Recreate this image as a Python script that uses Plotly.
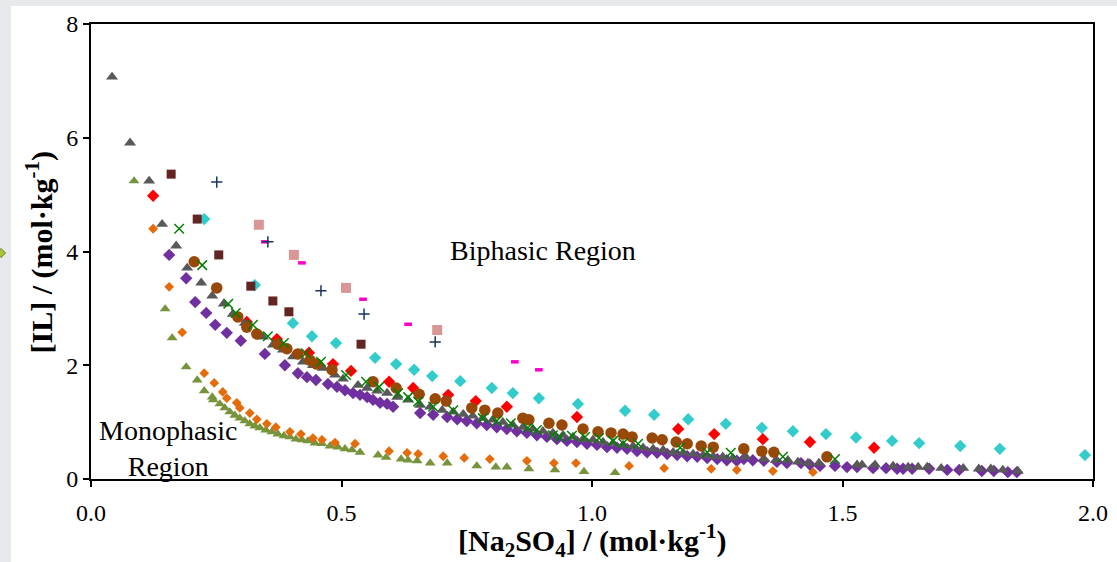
import plotly.graph_objects as go

# ---- Phase diagram data: [IL] vs [Na2SO4] (mol/kg) for each ionic liquid system ----
gray_tri_x = [0.042, 0.078, 0.116, 0.142, 0.170, 0.192, 0.220, 0.242, 0.265, 0.283, 0.307, 0.343, 0.363,
              0.383, 0.403, 0.423, 0.443, 0.463, 0.487, 0.503, 0.533, 0.551, 0.571, 0.591, 0.611, 0.633,
              0.657, 0.677, 0.701, 0.723, 0.743, 0.762, 0.782, 0.802, 0.822, 0.842, 0.862, 0.882, 0.902,
              0.922, 0.942, 0.962, 0.982, 1.002, 1.022, 1.042, 1.062, 1.082, 1.102, 1.122, 1.142, 1.162,
              1.182, 1.202, 1.222, 1.242, 1.261, 1.281, 1.307, 1.343, 1.367, 1.391, 1.411, 1.431, 1.453,
              1.529, 1.539, 1.565, 1.601, 1.631, 1.651, 1.669, 1.697, 1.741, 1.772, 1.796, 1.820, 1.850]
gray_tri_y = [7.07, 5.91, 5.24, 4.48, 4.10, 3.71, 3.45, 3.22, 3.08, 2.90, 2.74, 2.50, 2.36,
              2.27, 2.15, 2.06, 2.00, 1.95, 1.83, 1.76, 1.65, 1.60, 1.55, 1.51, 1.44, 1.39,
              1.30, 1.27, 1.21, 1.18, 1.14, 1.11, 1.07, 1.04, 1.00, 0.95, 0.91, 0.88, 0.84,
              0.81, 0.77, 0.74, 0.70, 0.69, 0.65, 0.63, 0.60, 0.58, 0.55, 0.53, 0.51, 0.47,
              0.46, 0.44, 0.42, 0.40, 0.39, 0.37, 0.39, 0.35, 0.33, 0.33, 0.30, 0.28, 0.28,
              0.25, 0.25, 0.25, 0.23, 0.21, 0.21, 0.21, 0.19, 0.19, 0.18, 0.18, 0.16, 0.14]

olive_tri_x = [0.086, 0.148, 0.162, 0.190, 0.212, 0.226, 0.242, 0.244, 0.257, 0.267, 0.277, 0.287, 0.297,
               0.307, 0.317, 0.327, 0.337, 0.349, 0.361, 0.373, 0.385, 0.397, 0.409, 0.421, 0.433, 0.447,
               0.461, 0.477, 0.493, 0.507, 0.521, 0.537, 0.573, 0.589, 0.619, 0.633, 0.651, 0.677, 0.711,
               0.770, 0.808, 0.830, 0.874, 0.926, 0.984, 1.046]
olive_tri_y = [5.24, 2.99, 2.48, 1.97, 1.74, 1.55, 1.44, 1.39, 1.32, 1.25, 1.18, 1.12, 1.07,
               1.02, 0.97, 0.93, 0.90, 0.86, 0.83, 0.79, 0.76, 0.74, 0.70, 0.69, 0.67, 0.63,
               0.62, 0.58, 0.56, 0.53, 0.51, 0.47, 0.42, 0.38, 0.35, 0.33, 0.32, 0.28, 0.28,
               0.23, 0.21, 0.21, 0.18, 0.16, 0.13, 0.11]

orange_dia_x = [0.124, 0.156, 0.182, 0.226, 0.246, 0.263, 0.271, 0.291, 0.297, 0.317, 0.331, 0.351, 0.369,
                0.397, 0.419, 0.443, 0.461, 0.487, 0.527, 0.595, 0.631, 0.653, 0.703, 0.745, 0.796, 0.870,
                0.924, 0.968, 1.074, 1.144, 1.238, 1.289, 1.361, 1.441]
orange_dia_y = [4.40, 3.38, 2.58, 1.86, 1.69, 1.53, 1.42, 1.34, 1.25, 1.16, 1.05, 0.97, 0.91,
                0.83, 0.79, 0.72, 0.69, 0.64, 0.62, 0.49, 0.46, 0.44, 0.40, 0.37, 0.35, 0.32,
                0.28, 0.28, 0.23, 0.19, 0.18, 0.16, 0.14, 0.12]

purple_dia_x = [0.156, 0.190, 0.208, 0.230, 0.248, 0.271, 0.299, 0.347, 0.387, 0.413, 0.431, 0.449, 0.473,
                0.491, 0.507, 0.523, 0.537, 0.551, 0.563, 0.577, 0.591, 0.603, 0.657, 0.683, 0.711, 0.731,
                0.750, 0.770, 0.790, 0.810, 0.830, 0.850, 0.870, 0.890, 0.910, 0.930, 0.950, 0.970, 0.990,
                1.010, 1.030, 1.050, 1.070, 1.090, 1.110, 1.130, 1.150, 1.170, 1.190, 1.210, 1.230, 1.250,
                1.269, 1.289, 1.303, 1.321, 1.343, 1.369, 1.389, 1.417, 1.435, 1.455, 1.485, 1.509, 1.529,
                1.561, 1.587, 1.609, 1.621, 1.639, 1.673, 1.709, 1.733, 1.778, 1.802, 1.830, 1.848]
purple_dia_y = [3.94, 3.53, 3.11, 2.92, 2.71, 2.57, 2.43, 2.20, 2.00, 1.86, 1.79, 1.74, 1.67,
                1.62, 1.56, 1.51, 1.48, 1.44, 1.39, 1.34, 1.32, 1.27, 1.16, 1.13, 1.09, 1.05,
                1.02, 0.98, 0.95, 0.91, 0.88, 0.84, 0.81, 0.77, 0.74, 0.70, 0.67, 0.65, 0.62,
                0.60, 0.56, 0.55, 0.53, 0.49, 0.47, 0.46, 0.44, 0.42, 0.40, 0.39, 0.37, 0.35,
                0.33, 0.32, 0.35, 0.33, 0.32, 0.30, 0.28, 0.28, 0.25, 0.23, 0.23, 0.21, 0.21,
                0.19, 0.19, 0.18, 0.18, 0.18, 0.18, 0.16, 0.16, 0.14, 0.14, 0.12, 0.12]

red_dia_x = [0.124, 0.311, 0.371, 0.435, 0.483, 0.519, 0.595, 0.643, 0.713, 0.768, 0.830, 0.970, 1.172,
             1.244, 1.341, 1.435, 1.563]
red_dia_y = [4.98, 2.76, 2.46, 2.22, 2.02, 1.90, 1.71, 1.60, 1.48, 1.37, 1.27, 1.09, 0.88,
             0.79, 0.70, 0.65, 0.55]

cyan_dia_x = [0.226, 0.327, 0.403, 0.441, 0.489, 0.567, 0.609, 0.645, 0.681, 0.737, 0.800, 0.842, 0.894,
              0.972, 1.066, 1.124, 1.192, 1.267, 1.339, 1.401, 1.467, 1.527, 1.599, 1.653, 1.735, 1.814,
              1.984]
cyan_dia_y = [4.57, 3.41, 2.74, 2.51, 2.39, 2.13, 2.02, 1.92, 1.81, 1.72, 1.60, 1.51, 1.42,
              1.32, 1.20, 1.13, 1.05, 0.97, 0.90, 0.84, 0.79, 0.73, 0.67, 0.63, 0.58, 0.53,
              0.42]

brown_sq_x = [0.160, 0.212, 0.255, 0.319, 0.363, 0.395, 0.539]
brown_sq_y = [5.36, 4.57, 3.94, 3.39, 3.13, 2.94, 2.37]

pink_sq_x = [0.335, 0.405, 0.509, 0.691]
pink_sq_y = [4.47, 3.94, 3.36, 2.62]

navy_plus_x = [0.251, 0.353, 0.459, 0.545, 0.687]
navy_plus_y = [5.22, 4.17, 3.31, 2.90, 2.41]

magenta_dash_x = [0.347, 0.421, 0.543, 0.633, 0.846, 0.894]
magenta_dash_y = [4.17, 3.80, 3.16, 2.72, 2.06, 1.92]

circle_x = [0.206, 0.251, 0.293, 0.311, 0.331, 0.373, 0.391, 0.413, 0.437, 0.451, 0.481, 0.563, 0.609,
            0.655, 0.687, 0.709, 0.760, 0.786, 0.812, 0.862, 0.874, 0.914, 0.940, 0.982, 1.012, 1.038,
            1.062, 1.080, 1.120, 1.140, 1.168, 1.190, 1.218, 1.242, 1.303, 1.339, 1.363, 1.469]
circle_y = [3.82, 3.36, 2.85, 2.67, 2.55, 2.37, 2.29, 2.20, 2.09, 2.02, 1.92, 1.71, 1.60,
            1.49, 1.41, 1.37, 1.25, 1.21, 1.16, 1.07, 1.04, 0.98, 0.95, 0.88, 0.83, 0.81,
            0.79, 0.74, 0.72, 0.69, 0.65, 0.62, 0.58, 0.56, 0.53, 0.49, 0.47, 0.39]

green_x_x = [0.176, 0.222, 0.274, 0.289, 0.323, 0.353, 0.385, 0.429, 0.459, 0.509, 0.549, 0.575, 0.613,
             0.633, 0.653, 0.683, 0.723, 0.782, 0.810, 0.838, 0.872, 0.890, 0.922, 0.936, 0.960, 0.986,
             1.014, 1.042, 1.062, 1.092, 1.176, 1.230, 1.277, 1.381, 1.485]
green_x_y = [4.40, 3.76, 3.08, 2.92, 2.71, 2.51, 2.39, 2.21, 2.06, 1.83, 1.71, 1.62, 1.51,
             1.44, 1.36, 1.27, 1.21, 1.07, 1.02, 0.98, 0.90, 0.86, 0.77, 0.74, 0.76, 0.74,
             0.72, 0.67, 0.63, 0.62, 0.55, 0.47, 0.46, 0.39, 0.35]

x_ticks = [0.0, 0.5, 1.0, 1.5, 2.0]
x_tick_text = ["0.0", "0.5", "1.0", "1.5", "2.0"]
y_ticks = [0, 2, 4, 6, 8]
y_tick_text = ["0", "2", "4", "6", "8"]

x_title = "<b>[Na<sub>2</sub>SO<sub>4</sub>] / (mol·kg<sup>-1</sup>)</b>"
y_title = "<b>[IL] / (mol·kg<sup>-1</sup>)</b>"

SERIF = "Liberation Serif"

fig = go.Figure()


def add(xs, ys, symbol, color, size, line_width=0, line_color=None):
    fig.add_trace(go.Scatter(
        x=xs, y=ys, mode="markers",
        marker=dict(symbol=symbol, color=color, size=size,
                    line=dict(width=line_width, color=line_color or color)),
        showlegend=False, hoverinfo="x+y",
    ))


add(cyan_dia_x, cyan_dia_y, "diamond", "#33cccc", 9.5)
add(red_dia_x, red_dia_y, "diamond", "#ff0000", 9.5)
add(purple_dia_x, purple_dia_y, "diamond", "#7030a0", 9.5)
add(olive_tri_x, olive_tri_y, "triangle-up", "#77933c", 9.5)
add(orange_dia_x, orange_dia_y, "diamond", "#e46c0a", 7.5)
add(gray_tri_x, gray_tri_y, "triangle-up", "#595959", 10.5)
add(brown_sq_x, brown_sq_y, "square", "#632523", 9)
add(pink_sq_x, pink_sq_y, "square", "#d99694", 10)
add(magenta_dash_x, magenta_dash_y, "line-ew-open", "#ff00cc", 5.5, 3.5)
add(navy_plus_x, navy_plus_y, "cross-thin-open", "#17375e", 8, 1.5)
add(circle_x, circle_y, "circle", "#984807", 11.5)
add(green_x_x, green_x_y, "x-thin-open", "#008000", 9.5, 1.5)

fig.add_annotation(x=0.902, y=4.01, text="Biphasic Region", showarrow=False,
                   font=dict(family=SERIF, size=28, color="black"))
fig.add_annotation(x=0.154, y=0.54, text="Monophasic<br>Region", showarrow=False, align="center",
                   font=dict(family=SERIF, size=28, color="black"))

# axis titles placed in paper coordinates
fig.add_annotation(xref="paper", yref="paper", x=0.5, y=-0.136, yanchor="middle",
                   text=x_title, showarrow=False,
                   font=dict(family=SERIF, size=30, color="black"))
fig.add_annotation(xref="paper", yref="paper", x=-0.0509, y=0.5, xanchor="center",
                   text=y_title, textangle=-90, showarrow=False,
                   font=dict(family=SERIF, size=30, color="black"))

# light-gray frame strips around the white panel
fig.add_shape(type="rect", xref="paper", yref="paper", x0=-0.12, x1=-0.0798, y0=-0.3, y1=1.1,
              fillcolor="#e8e9ed", line=dict(width=0), layer="below")
fig.add_shape(type="rect", xref="paper", yref="paper", x0=-0.12, x1=1.1, y0=1.0396, y1=1.1,
              fillcolor="#e8e9ed", line=dict(width=0), layer="below")
# small legend-marker fragment visible at the left canvas edge
fig.add_shape(type="path", xref="paper", yref="paper",
              path="M -0.0943,0.4967 L -0.0898,0.5066 L -0.0853,0.4967 L -0.0898,0.4868 Z",
              fillcolor="#a8c83a", line=dict(width=1, color="#5a7d1c"), layer="above")

fig.update_xaxes(
    range=[0, 2.0], tickmode="array", tickvals=x_ticks, ticktext=x_tick_text,
    showline=True, linecolor="black", linewidth=2, mirror=True,
    ticks="outside", ticklen=6, tickwidth=1.5, tickcolor="black",
    showgrid=False, zeroline=False, ticklabelstandoff=5,
    tickfont=dict(family=SERIF, size=24, color="black"),
    automargin=False,
)
fig.update_yaxes(
    range=[0, 8], tickmode="array", tickvals=y_ticks, ticktext=y_tick_text,
    showline=True, linecolor="black", linewidth=2, mirror=True,
    ticks="outside", ticklen=6, tickwidth=1.5, tickcolor="black",
    showgrid=False, zeroline=False,
    tickfont=dict(family=SERIF, size=24, color="black"),
    automargin=False,
)

fig.update_layout(
    width=1117, height=562,
    margin=dict(l=91, r=24, t=24, b=83),
    font=dict(family=SERIF, size=22, color="black"),
    paper_bgcolor="white", plot_bgcolor="white",
)

fig.write_html("out.html")
